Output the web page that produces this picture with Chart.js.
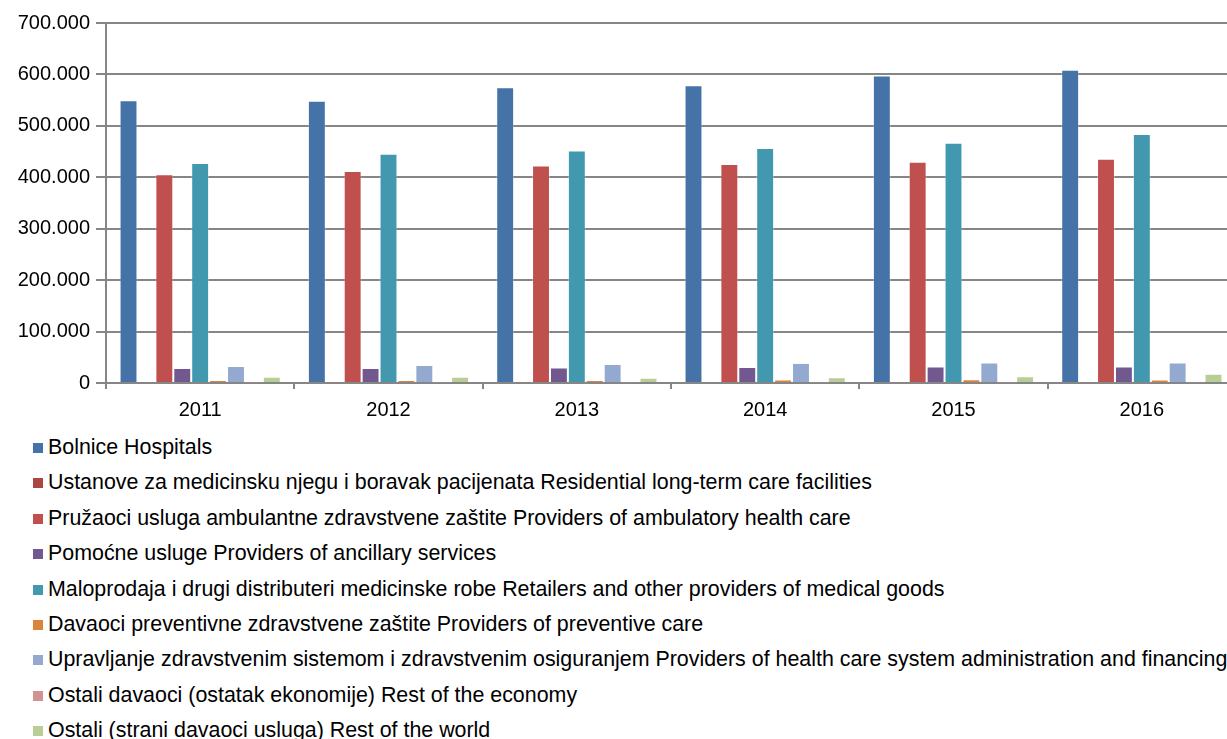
<!DOCTYPE html>
<html>
<head>
<meta charset="utf-8">
<script src="https://cdn.jsdelivr.net/npm/chart.js@4"></script>
<style>
    html, body { margin: 0; padding: 0; background: #fff; overflow: hidden; }
    #wrap { position: relative; width: 1227px; height: 739px; overflow: hidden; }
    #chartBox { position: absolute; left: 0; top: 5px; width: 1236px; height: 420px; }
    #legend { position: absolute; left: 33px; top: 430px; margin: 0; padding: 0; list-style: none;
        font-family: "Liberation Sans", Arial, sans-serif; font-size: 21.4px; color: #000; }
    #legend li { height: 35.4px; line-height: 35.4px; white-space: nowrap; }
    #legend .box { display: inline-block; width: 10px; height: 10px; margin-right: 5px; vertical-align: 1px; }
</style>
</head>
<body>
<div id="wrap">
    <div id="chartBox"><canvas id="chart"></canvas></div>
    <ul id="legend"></ul>
</div>
<script>
// Kategorije (godine)
const years = ['2011', '2012', '2013', '2014', '2015', '2016'];

// Serije
const bolnice = [550000, 549000, 575000, 579000, 598000, 609000];
const ustanove = [1000, 1000, 1000, 1000, 1000, 1000];
const pruzaoci = [406000, 412000, 423000, 426000, 430000, 436000];
const pomocne = [29000, 29000, 30000, 31000, 32000, 32000];
const maloprodaja = [428000, 446000, 452000, 457000, 467000, 484000];
const preventiva = [5500, 6000, 5500, 7000, 7500, 7000];
const upravljanje = [33000, 35000, 37000, 39000, 40000, 40000];
const ostatakEkonomije = [800, 800, 800, 800, 800, 800];
const ostatakSvijeta = [12000, 12000, 10000, 11000, 13000, 18000];

const seriesLabels = [
    'Bolnice Hospitals',
    'Ustanove za medicinsku njegu i boravak pacijenata Residential long-term care facilities',
    'Pružaoci usluga ambulantne zdravstvene zaštite Providers of ambulatory health care',
    'Pomoćne usluge Providers of ancillary services',
    'Maloprodaja i drugi distributeri medicinske robe Retailers and other providers of medical goods',
    'Davaoci preventivne zdravstvene zaštite Providers of preventive care',
    'Upravljanje zdravstvenim sistemom i zdravstvenim osiguranjem Providers of health care system administration and financing',
    'Ostali davaoci (ostatak ekonomije) Rest of the economy',
    'Ostali (strani davaoci usluga) Rest of the world'
];
const seriesValues = [bolnice, ustanove, pruzaoci, pomocne, maloprodaja, preventiva, upravljanje, ostatakEkonomije, ostatakSvijeta];
const seriesColors = ['#4572A7', '#AA4643', '#C0504D', '#71588F', '#4198AF', '#DB843D', '#93A9CF', '#D19392', '#B9CD96'];

const yTicks = [0, 100000, 200000, 300000, 400000, 500000, 600000, 700000];

const font = { family: '"Liberation Sans", Arial, sans-serif', size: 20 };
const gridColor = '#868686';

function formatNumber(v) {
    return String(v).replace(/\B(?=(\d{3})+(?!\d))/g, '.');
}

const chart = new Chart(document.getElementById('chart'), {
    type: 'bar',
    data: {
        labels: years,
        datasets: seriesLabels.map((label, i) => ({
            label: label,
            data: seriesValues[i],
            backgroundColor: seriesColors[i],
            borderColor: 'rgba(255,255,255,0.3)',
            borderWidth: 1,
            barPercentage: 1,
            categoryPercentage: 0.856
        }))
    },
    options: {
        responsive: true,
        maintainAspectRatio: false,
        animation: false,
        layout: { padding: { top: 10, right: 0, left: 0, bottom: 0 } },
        plugins: { legend: { display: false }, tooltip: { enabled: false } },
        scales: {
            x: {
                offset: true,
                grid: { display: true, offset: true, drawOnChartArea: false, drawTicks: true, tickLength: 6, color: gridColor, lineWidth: 2 },
                border: { display: true, color: gridColor, width: 2 },
                ticks: { color: '#000', font: font, padding: 9, maxRotation: 0 },
                afterFit: s => { s.height = 42; }
            },
            y: {
                min: 0,
                max: 700000,
                afterBuildTicks: s => { s.ticks = yTicks.map(v => ({ value: v })); },
                grid: { color: gridColor, lineWidth: 2, tickLength: 10 },
                border: { display: true, color: gridColor, width: 2 },
                ticks: { color: '#000', font: font, padding: 6, callback: v => formatNumber(v) },
                afterFit: s => { s.width = 106; }
            }
        }
    }
});

// Legenda ispod grafika, jedna stavka po redu
const legendEl = document.getElementById('legend');
chart.data.datasets.forEach(ds => {
    const li = document.createElement('li');
    const box = document.createElement('span');
    box.className = 'box';
    box.style.background = ds.backgroundColor;
    li.appendChild(box);
    li.appendChild(document.createTextNode(ds.label));
    legendEl.appendChild(li);
});
</script>
</body>
</html>
